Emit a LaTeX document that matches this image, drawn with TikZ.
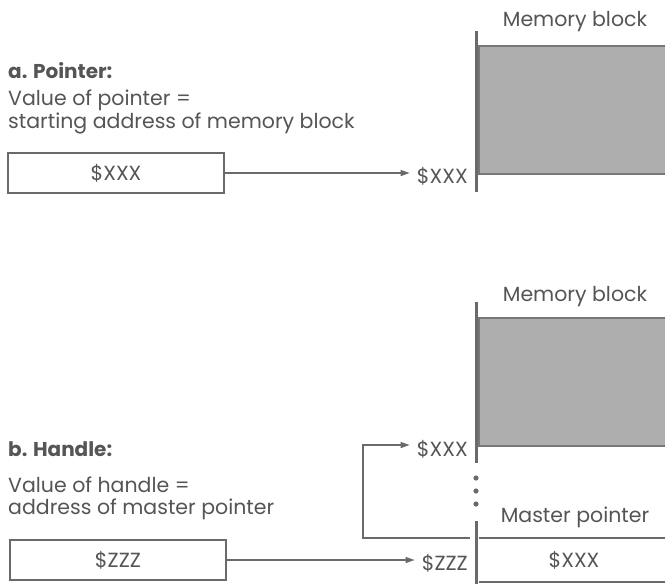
\documentclass[tikz,border=0pt]{standalone}
\usepackage{fontspec}
\setmainfont{Poppins}
\usetikzlibrary{arrows.meta}
\definecolor{ink}{HTML}{555555}
\definecolor{lineclr}{HTML}{6A6A6A}
\definecolor{blockfill}{HTML}{AEAEAE}
\definecolor{blockedge}{HTML}{777777}
\tikzset{
  txt/.style={inner sep=0pt, text=ink, font=\fontsize{20.5}{24}\selectfont},
  head/.style={txt, font=\fontsize{20}{24}\selectfont\bfseries},
  valbox/.style={draw=lineclr, line width=1.3pt, inner sep=0pt, text=ink, font=\fontsize{20.5}{24}\selectfont},
  arr/.style={draw=lineclr, line width=1.3pt, -{Triangle[length=9pt,width=6pt]}},
  wall/.style={draw=lineclr, line width=3pt},
  thin/.style={draw=lineclr, line width=1.3pt},
  gblock/.style={fill=blockfill, draw=blockedge, line width=1.5pt, inner sep=0pt},
}
\begin{document}
\begin{tikzpicture}[x=1pt,y=-1pt]
\path[use as bounding box] (0,0) rectangle (665,584);
% ---------- a. Pointer ----------
\node[txt] (memlblA) at (575,22) {Memory block};
\node[gblock, minimum width=190pt, minimum height=128pt, anchor=north west] (memA) at (478,45) {};
\draw[wall] (476,31) -- (476,192);
\node[head, anchor=west] (headA) at (8,71) {a. Pointer:};
\node[txt, anchor=west] (descA1) at (8,100) {Value of pointer =};
\node[txt, anchor=west] (descA2) at (8,123) {starting address of memory block};
\node[valbox, minimum width=216pt, minimum height=40pt] (boxA) at (116,173) {\$XXX};
\node[txt, anchor=east] (addrA) at (468,176) {\$XXX};
\draw[arr] (boxA.east) -- ([xshift=-7pt]addrA.west |- boxA.east);
% ---------- b. Handle ----------
\node[txt] (memlblB) at (575,297) {Memory block};
\node[gblock, minimum width=190pt, minimum height=128pt, anchor=north west] (memB) at (478,317) {};
\draw[wall] (476,302) -- (476,463);
\foreach \yy/\nm in {478/d1,491/d2,504/d3}
  \fill[lineclr] (476,\yy) circle (2.6pt) coordinate (\nm);
\draw[wall] (476,521) -- (476,584);
\node[txt] (mplbl) at (575,517) {Master pointer};
\coordinate (mpR) at (665,538);
\coordinate (mpLin) at (479,538);
\draw[thin] (mpLin) -- (mpR);
\draw[thin] (479,582) -- (665,582);
\node[txt] (mpval) at (574,560) {\$XXX};
\node[head, anchor=west] (headB) at (8,449) {b. Handle:};
\node[txt, anchor=west] (descB1) at (8,485) {Value of handle =};
\node[txt, anchor=west] (descB2) at (8,509) {address of master pointer};
\node[valbox, minimum width=216pt, minimum height=40pt] (boxB) at (118,560) {\$ZZZ};
\node[txt, anchor=east] (addrZ) at (468,563) {\$ZZZ};
\draw[arr] (boxB.east) -- ([xshift=-7pt]addrZ.west |- boxB.east);
\node[txt, anchor=east] (addrB) at (468,449) {\$XXX};
\coordinate (fbStart) at (470,538);
\coordinate (fbCorner) at (363,445);
\draw[arr] (fbStart) -| (fbCorner) -- ([xshift=-7pt]addrB.west |- fbCorner);
\end{tikzpicture}
\end{document}
